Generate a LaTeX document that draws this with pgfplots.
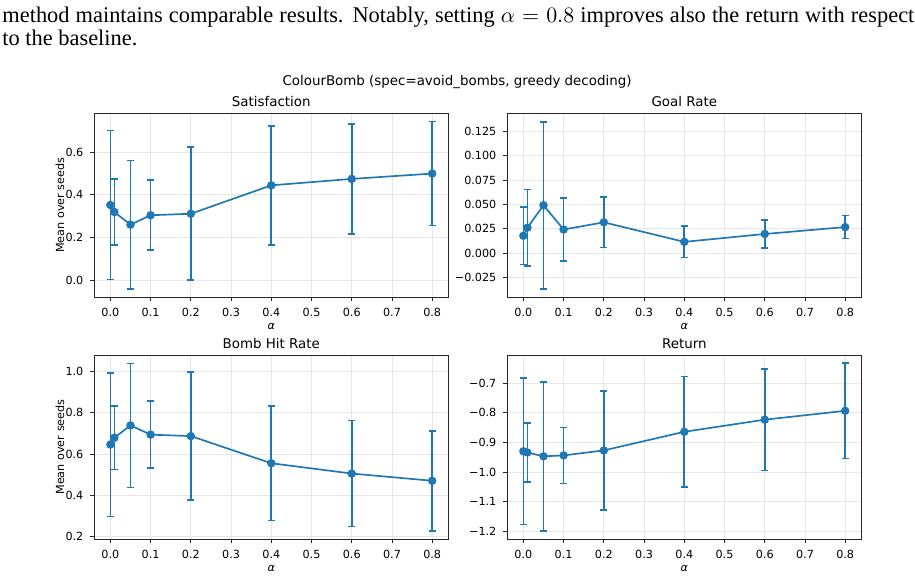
\documentclass[border=0pt]{standalone}
\usepackage{fontspec}
\setmainfont{Liberation Serif}
\newfontfamily\djv{DejaVu Sans}
\usepackage{pgfplots}
\pgfplotsset{compat=1.18}
\usepackage{pgfplotstable}

\definecolor{mplblue}{HTML}{1F77B4}
\definecolor{gridgray}{HTML}{E7E7E7}
\definecolor{spine}{HTML}{262626}

\newcommand\tickfont{\djv\fontsize{5.6}{6.7}\selectfont}
\newcommand\titlefont{\djv\fontsize{6.7}{8}\selectfont}

% columns: alpha, mean over seeds, half-width of the error bar
\pgfplotstableread{
x     y       e
0.00  0.352   0.349
0.01  0.319   0.155
0.05  0.260   0.300
0.10  0.304   0.164
0.20  0.311   0.311
0.40  0.444   0.279
0.60  0.474   0.257
0.80  0.499   0.243
}\satisfaction
\pgfplotstableread{
x     y        e
0.00  0.0177   0.0295
0.01  0.0260   0.0394
0.05  0.0490   0.0860
0.10  0.0241   0.0327
0.20  0.0315   0.0260
0.40  0.0114   0.0160
0.60  0.0195   0.0141
0.80  0.0266   0.0119
}\goalrate
\pgfplotstableread{
x     y       e
0.00  0.646   0.349
0.01  0.679   0.155
0.05  0.739   0.301
0.10  0.694   0.163
0.20  0.687   0.311
0.40  0.555   0.278
0.60  0.505   0.258
0.80  0.470   0.243
}\bombhit
\pgfplotstableread{
x     y        e
0.00  -0.930   0.248
0.01  -0.934   0.099
0.05  -0.947   0.252
0.10  -0.944   0.095
0.20  -0.927   0.202
0.40  -0.864   0.187
0.60  -0.823   0.172
0.80  -0.793   0.161
}\return

\pgfplotsset{
  every axis title shift=0pt,
  panel/.style={
    scale only axis, width=177pt, height=92pt, anchor=north west,
    xmin=-0.04, xmax=0.84,
    xtick={0,0.1,0.2,0.3,0.4,0.5,0.6,0.7,0.8},
    xticklabels={0.0,0.1,0.2,0.3,0.4,0.5,0.6,0.7,0.8},
    grid=major, major grid style={draw=gridgray, line width=0.45pt},
    axis line style={draw=spine, line width=0.45pt},
    tick align=outside, major tick length=1.96pt,
    tick style={draw=spine, line width=0.45pt},
    xtick pos=left, ytick pos=left,
    tick label style={font=\tickfont},
    title style={at={(axis description cs:0.5,1)}, anchor=base, yshift=3.4pt, font=\titlefont},
    xlabel={\itshape α},
    xlabel style={font=\tickfont, at={(axis description cs:0.5,0)}, anchor=center, yshift=-14.6pt},
    ylabel style={font=\tickfont, at={(axis description cs:-0.0969,0.5)}, anchor=center},
  },
  series/.style={
    color=mplblue, line width=0.84pt, mark=*, mark size=1.68pt,
    mark options={solid, fill=mplblue, draw=mplblue},
    error bars/.cd, y dir=both, y explicit,
    error bar style={line width=0.84pt, draw=mplblue},
    error mark=-,
    error mark options={rotate=90, draw=mplblue, line width=0.84pt, mark size=1.68pt},
  },
}

\begin{document}
\begin{tikzpicture}
\useasboundingbox (0,0) rectangle (457.5pt,-289pt);

\node[anchor=base west, inner sep=0] at (1pt,-11.3pt)
  {\fontsize{11.2}{13.5}\selectfont\makebox[456pt][s]{method maintains comparable results. Notably, setting $\alpha = 0.8$ improves also the return with respect}};
\node[anchor=base west, inner sep=0] at (1pt,-23pt)
  {\fontsize{11.2}{13.5}\selectfont to the baseline.};

\node[anchor=base, inner sep=0] at (228.5pt,-42.85pt)
  {\titlefont ColourBomb (spec=avoid\_bombs, greedy decoding)};

\begin{axis}[panel, at={(47.15pt,-56.65pt)},
  title={Satisfaction}, ylabel={Mean over seeds},
  ymin=-0.080, ymax=0.781,
  ytick={0,0.2,0.4,0.6}, yticklabels={0.0,0.2,0.4,0.6}]
  \addplot[series] table[x=x, y=y, y error=e] {\satisfaction};
\end{axis}

\begin{axis}[panel, at={(253.65pt,-56.65pt)},
  title={Goal Rate},
  ymin=-0.0456, ymax=0.1436,
  ytick={-0.025,0,0.025,0.05,0.075,0.1,0.125},
  yticklabels={−0.025,0.000,0.025,0.050,0.075,0.100,0.125}]
  \addplot[series] table[x=x, y=y, y error=e] {\goalrate};
\end{axis}

\begin{axis}[panel, at={(47.15pt,-177.5pt)},
  title={Bomb Hit Rate}, ylabel={Mean over seeds},
  ymin=0.187, ymax=1.081,
  ytick={0.2,0.4,0.6,0.8,1.0}, yticklabels={0.2,0.4,0.6,0.8,1.0}]
  \addplot[series] table[x=x, y=y, y error=e] {\bombhit};
\end{axis}

\begin{axis}[panel, at={(253.65pt,-177.5pt)},
  title={Return},
  ymin=-1.227, ymax=-0.604,
  ytick={-1.2,-1.1,-1.0,-0.9,-0.8,-0.7},
  yticklabels={−1.2,−1.1,−1.0,−0.9,−0.8,−0.7}]
  \addplot[series] table[x=x, y=y, y error=e] {\return};
\end{axis}
\end{tikzpicture}
\end{document}
